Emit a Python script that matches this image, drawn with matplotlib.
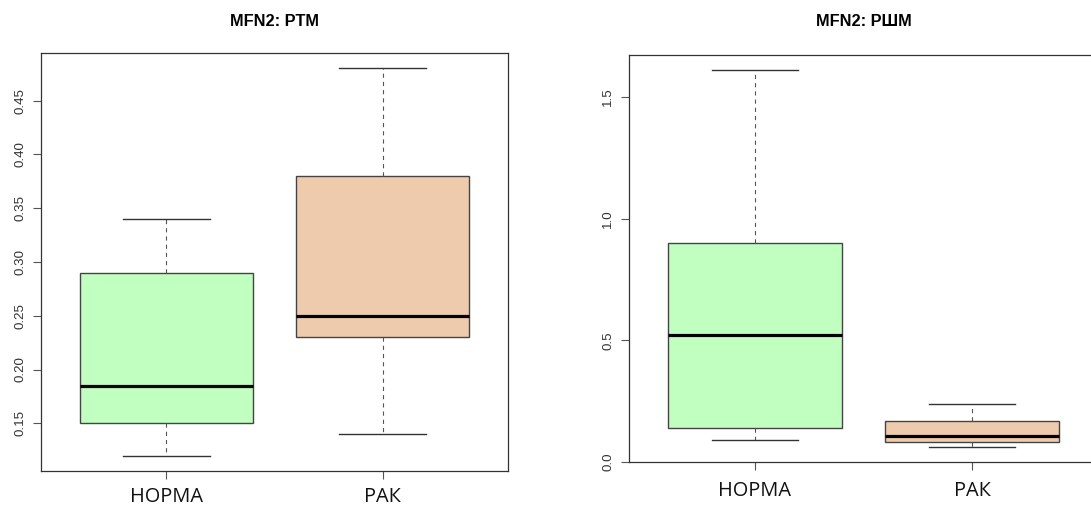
import matplotlib
matplotlib.use("Agg")
import matplotlib.pyplot as plt

# Groups on the x axis
groups = ["НОРМА", "РАК"]

# MFN2 in РТМ: five-number summaries per group
ptm_low = [0.12, 0.14]
ptm_q1 = [0.15, 0.23]
ptm_med = [0.185, 0.25]
ptm_q3 = [0.29, 0.38]
ptm_high = [0.34, 0.48]

# MFN2 in РШМ: five-number summaries per group
rshm_low = [0.09, 0.062]
rshm_q1 = [0.138, 0.081]
rshm_med = [0.522, 0.107]
rshm_q3 = [0.90, 0.168]
rshm_high = [1.61, 0.24]

titles = ["MFN2: PTM", "MFN2: РШМ"]
fills = ["#C1FFC1", "#EECBAD"]

W, H = 1091, 508
fig = plt.figure(figsize=(W / 100, H / 100), dpi=100)


def px_axes(left, top, right, bottom):
    return fig.add_axes([left / W, 1 - bottom / H, (right - left) / W, (bottom - top) / H])


def stats(low, q1, med, q3, high):
    return [dict(whislo=a, q1=b, med=c, q3=d, whishi=e, label=g, fliers=[])
            for a, b, c, d, e, g in zip(low, q1, med, q3, high, groups)]


def draw_panel(ax, st, yticks, fmt, title, title_y, xpad):
    pos = list(range(1, len(st) + 1))
    res = ax.bxp(st, positions=pos, widths=0.8, patch_artist=True,
                 showfliers=False, capwidths=0.4,
                 boxprops=dict(edgecolor="#444444", linewidth=1.0),
                 whiskerprops=dict(color="#555555", linewidth=0.8,
                                   linestyle=(0, (3.8, 3.6))),
                 capprops=dict(color="#333333", linewidth=1.0),
                 medianprops=dict(color="black", linewidth=2.3,
                                  solid_capstyle="butt"))
    for patch, c in zip(res["boxes"], fills):
        patch.set_facecolor(c)

    # axis limits with the usual 4% padding around the data range
    lo = min(s["whislo"] for s in st)
    hi = max(s["whishi"] for s in st)
    r = hi - lo
    ax.set_ylim(lo - 0.04 * r, hi + 0.04 * r)
    ax.set_xlim(0.5 - 0.08, len(st) + 0.5 + 0.08)

    ax.tick_params(axis="y", length=5.8, width=0.8, color="#555555", pad=5.0)
    ax.tick_params(axis="x", length=5.8, width=0.8, color="#555555", pad=xpad)

    ax.set_yticks(yticks)
    ax.set_yticklabels([fmt.format(v) for v in yticks])
    for lab in ax.get_yticklabels():
        lab.set_rotation(90)
        lab.set_va("center")
        lab.set_family("Liberation Sans")
        lab.set_fontsize(9.6)
        lab.set_color("#333333")
    ax.set_xticks(pos)
    ax.set_xticklabels(groups)
    for lab in ax.get_xticklabels():
        lab.set_family("Open Sans")
        lab.set_fontsize(14.4)
        lab.set_color("#111111")

    for sp in ax.spines.values():
        sp.set_color("#333333")
        sp.set_linewidth(0.9)

    bb = ax.get_position()
    fig.text(bb.x0 + bb.width / 2, 1 - title_y / H, title, ha="center",
             va="center", family="Liberation Sans", fontweight="bold",
             fontsize=11.8, color="black")


ax1 = px_axes(41, 53, 508, 471)
draw_panel(ax1, stats(ptm_low, ptm_q1, ptm_med, ptm_q3, ptm_high),
           [0.15, 0.20, 0.25, 0.30, 0.35, 0.40, 0.45], "{:.2f}", titles[0], 21,
           xpad=5.5)

ax2 = px_axes(629, 55, 1098, 462)
draw_panel(ax2, stats(rshm_low, rshm_q1, rshm_med, rshm_q3, rshm_high),
           [0.0, 0.5, 1.0, 1.5], "{:.1f}", titles[1], 22, xpad=8)

fig.savefig("out.png", dpi=100, facecolor="white")
